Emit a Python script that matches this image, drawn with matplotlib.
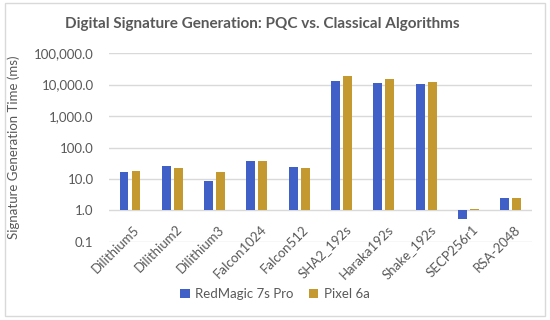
import numpy as np
import matplotlib.pyplot as plt
from matplotlib.patches import Rectangle
from matplotlib.ticker import FixedLocator, FuncFormatter

# -------- DATA --------
algorithms = ["Dilithium5", "Dilithium2", "Dilithium3", "Falcon1024", "Falcon512",
              "SHA2_192s", "Haraka192s", "Shake_192s", "SECP256r1", "RSA-2048"]
redmagic = [16.8, 25.5, 8.6, 36.7, 24.5, 13400, 11300, 10200, 0.52, 2.4]
pixel = [18.0, 22.0, 16.8, 38.0, 23.0, 18300, 15200, 11800, 1.1, 2.4]
yticks = [0.1, 1, 10, 100, 1000, 10000, 100000]

plt.rcParams["font.family"] = ["Lato", "DejaVu Sans"]
gray = "#595959"

fig = plt.figure(figsize=(5.5, 3.2), dpi=100)
ax = fig.add_axes([0.198, 0.244, 0.769, 0.590])

x = np.arange(len(algorithms))
w = 0.21
base = 1.0  # Excel log axis crosses at 1
ax.bar(x - 0.142, np.array(redmagic) - base, w, bottom=base, color="#4060C8",
       label="RedMagic 7s Pro", zorder=3)
ax.bar(x + 0.142, np.array(pixel) - base, w, bottom=base, color="#C49A30",
       label="Pixel 6a", zorder=3)

ax.set_yscale("log")
ax.set_ylim(0.1, 100000)
ax.set_xlim(-0.5, len(algorithms) - 0.5)
ax.yaxis.set_major_locator(FixedLocator(yticks))
ax.yaxis.set_minor_locator(FixedLocator([]))
ax.yaxis.set_major_formatter(FuncFormatter(lambda v, p: f"{v:,.1f}"))
ax.tick_params(axis="y", length=0, pad=11, labelsize=9.5, labelcolor=gray)
ax.set_xticks([])
ax.grid(axis="y", color="#D9D9D9", linewidth=1, zorder=0)
for s in ax.spines.values():
    s.set_visible(False)

# category labels, rotated like Excel
for i, name in enumerate(algorithms):
    ax.text(i + 0.08, 0.10, name, transform=ax.get_xaxis_transform(),
            rotation=45, rotation_mode="anchor", ha="right", va="top",
            fontsize=9.5, color=gray)

ax.set_ylabel("Signature Generation Time (ms)", fontsize=9.5, color=gray, labelpad=10)
fig.text(0.477, 0.925, "Digital Signature Generation: PQC vs. Classical Algorithms",
         ha="center", va="center", fontsize=11, fontweight="bold", color=gray)

fig.legend(loc="center", bbox_to_anchor=(0.5, 0.082), ncol=2, frameon=False,
           fontsize=9.5, handlelength=0.7, handleheight=0.7, columnspacing=1.2,
           handletextpad=0.4, labelcolor=gray)

# chart border
fig.patches.append(Rectangle((0.009, 0.012), 0.982, 0.978, transform=fig.transFigure,
                             fill=False, edgecolor="#D9D9D9", linewidth=1))

plt.savefig("out.png", dpi=100)
